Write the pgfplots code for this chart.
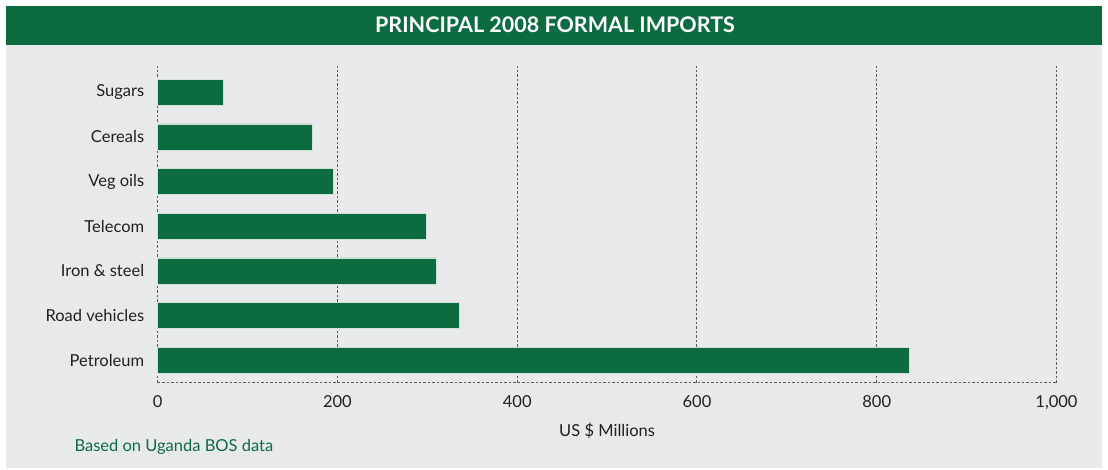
\documentclass[border=0pt]{standalone}
\usepackage{pgfplots}
\pgfplotsset{compat=1.18}
\usepackage{fontspec}
\setmainfont{Lato}
\definecolor{ugreen}{RGB}{13,107,64}
\definecolor{ubg}{RGB}{232,233,235}
\definecolor{ugrid}{RGB}{90,90,90}
\definecolor{utext}{RGB}{35,31,32}
\begin{document}
\begin{tikzpicture}[x=1pt,y=1pt]
\path[use as bounding box] (0,0) rectangle (1108,469);
\fill[white] (0,0) rectangle (1108,469);
\fill[ubg] (6,1) rectangle (1102,424.3);
\fill[ugreen] (6,424.3) rectangle (1102,463);
\node[text=white,font=\bfseries\fontsize{21.5}{24}\selectfont] at (555,444) {PRINCIPAL 2008 FORMAL IMPORTS};
\begin{axis}[
  at={(157.7pt,86.3pt)}, anchor=south west,
  scale only axis, width=898.8pt, height=316.7pt,
  xmin=0, xmax=1000, ymin=-0.501, ymax=6.589,
  xbar, bar width=0.582, bar shift=0pt,
  axis line style={draw=none},
  xtick={0,200,400,600,800,1000},
  xticklabels={0,200,400,600,800,{1,000}},
  ytick={0,1,2,3,4,5,6},
  yticklabels={Petroleum,Road vehicles,Iron \& steel,Telecom,Veg oils,Cereals,Sugars},
  major tick length=0pt,
  xmajorgrids,
  major grid style={ugrid, line width=1pt, dash pattern=on 2.5pt off 2pt},
  ticklabel style={font=\fontsize{16.5}{18}\selectfont, text=utext},
  xticklabel style={yshift=-9pt},
  yticklabel style={xshift=-10pt},
  xlabel={US \$ Millions},
  xlabel style={font=\fontsize{16.5}{18}\selectfont, text=utext, yshift=-7pt},
  clip=false,
]
\addplot[fill=ugreen, draw=white!80!ugreen, line width=0.6pt] coordinates {
 (836,0) (336,1) (310,2) (299,3) (195.4,4) (172,5) (73.4,6)};
\draw[ugrid, line width=1pt, dash pattern=on 2.5pt off 2pt] (rel axis cs:0,0) -- (rel axis cs:1,0);
\end{axis}
\node[anchor=west, text=ugreen, font=\fontsize{16.5}{18}\selectfont] at (71,22.3) {Based on Uganda BOS data};
\end{tikzpicture}
\end{document}
